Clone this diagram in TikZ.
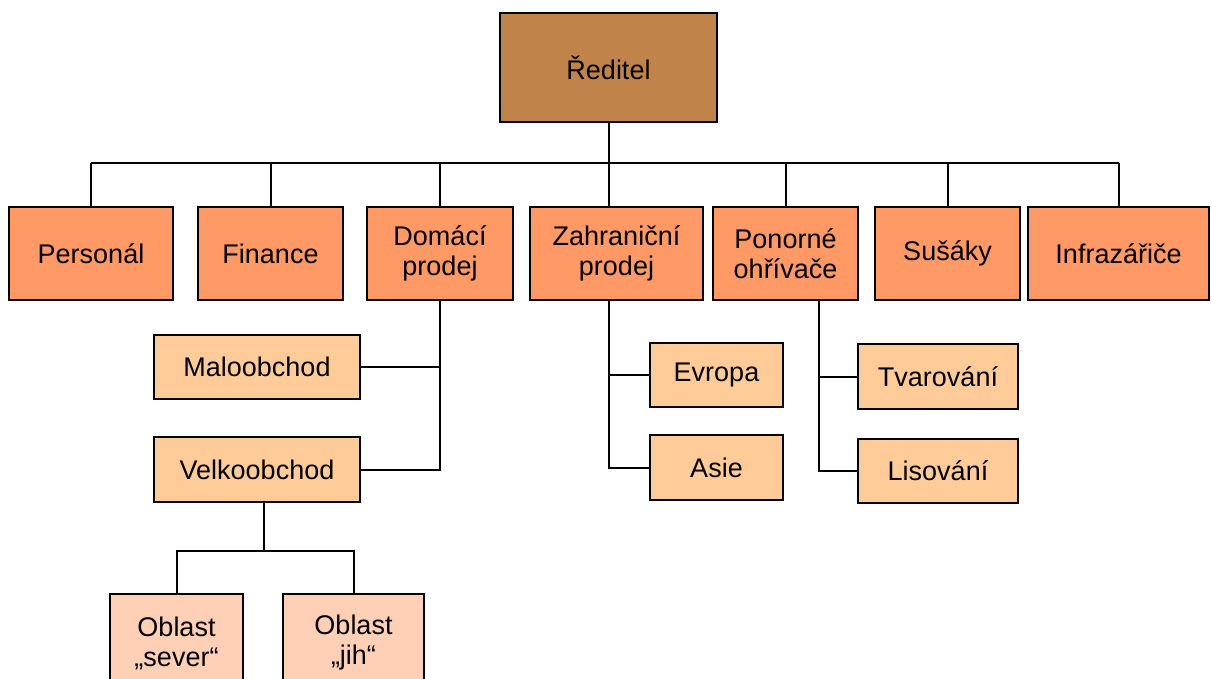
\documentclass[tikz,border=0pt]{standalone}
\usepackage{fontspec}
\setmainfont{Liberation Sans}
\usetikzlibrary{calc}
\definecolor{topfill}{HTML}{C0844A}
\definecolor{deptfill}{HTML}{FF9966}
\definecolor{subfill}{HTML}{FFCC99}
\definecolor{regfill}{HTML}{FFCFB6}
\begin{document}
\begin{tikzpicture}[x=1pt,y=-1pt,
  box/.style={draw=black,line width=2pt,anchor=north west,inner sep=0pt,
    align=center,font=\fontsize{27}{30}\selectfont},
  link/.style={draw=black,line width=2pt}]
\useasboundingbox (0,0) rectangle (1212,679);
\clip (0,0) rectangle (1212,679);

% top
\node[box,fill=topfill,minimum width=217pt,minimum height=109pt] (dir) at (499,12) {Ředitel};

% departments
\node[box,fill=deptfill,minimum width=164pt,minimum height=93pt] (personal) at (8,206) {Personál};
\node[box,fill=deptfill,minimum width=145pt,minimum height=93pt] (finance) at (197,206) {Finance};
\node[box,fill=deptfill,minimum width=146pt,minimum height=93pt] (domaci) at (366,206) {Domácí\\prodej};
\node[box,fill=deptfill,minimum width=173pt,minimum height=93pt] (zahr) at (529,206) {Zahraniční\\prodej};
\node[box,fill=deptfill,minimum width=145pt,minimum height=93pt] (ponor) at (712,206) {Ponorné\\ohřívače};
\node[box,fill=deptfill,minimum width=145pt,minimum height=93pt] (susaky) at (874,206) {Sušáky};
\node[box,fill=deptfill,minimum width=181pt,minimum height=93pt] (infra) at (1027,206) {Infrazářiče};

% sub-units
\node[box,fill=subfill,minimum width=206pt,minimum height=64pt] (malo) at (153,334) {Maloobchod};
\node[box,fill=subfill,minimum width=206pt,minimum height=65pt] (velko) at (153,436) {Velkoobchod};
\node[box,fill=subfill,minimum width=133pt,minimum height=64pt] (evropa) at (649,342) {Evropa};
\node[box,fill=subfill,minimum width=133pt,minimum height=65pt] (asie) at (649,434) {Asie};
\node[box,fill=subfill,minimum width=160pt,minimum height=65pt] (tvar) at (857,343) {Tvarování};
\node[box,fill=subfill,minimum width=160pt,minimum height=64pt] (lis) at (857,438) {Lisování};

% regions
\node[box,fill=regfill,minimum width=133pt,minimum height=98pt] (sever) at (109,593) {Oblast\\„sever“};
\node[box,fill=regfill,minimum width=141pt,minimum height=98pt] (jih) at (282,593) {Oblast\\„jih“};

% branch points
\coordinate (bus) at (0,163);
\coordinate (zl) at (609,299);
\coordinate (pl) at (819,299);
\coordinate (vl) at (264,501);
\coordinate (rbus) at (0,551);

% director to departments
\draw[link] (dir.south) -- (dir.south |- zahr.north);
\draw[link] (personal.north |- bus) -- (infra.north |- bus);
\foreach \n in {personal,finance,domaci,ponor,susaky,infra}
  \draw[link] (\n.north) -- (\n.north |- bus);

% Domácí prodej
\draw[link] (domaci.south) -- (domaci.south |- velko.east) -- (velko.east);
\draw[link] (malo.east) -- (malo.east -| domaci.south);

% Zahraniční prodej
\draw[link] (zl) |- (asie.west);
\draw[link] (evropa.west) -- (evropa.west -| zl);

% Ponorné ohřívače
\draw[link] (pl) |- (lis.west);
\draw[link] (tvar.west) -- (tvar.west -| pl);

% Velkoobchod to regions
\draw[link] (vl) -- (vl |- rbus);
\draw[link] (sever.north) |- (vl |- rbus) -| (jih.north);
\end{tikzpicture}
\end{document}
